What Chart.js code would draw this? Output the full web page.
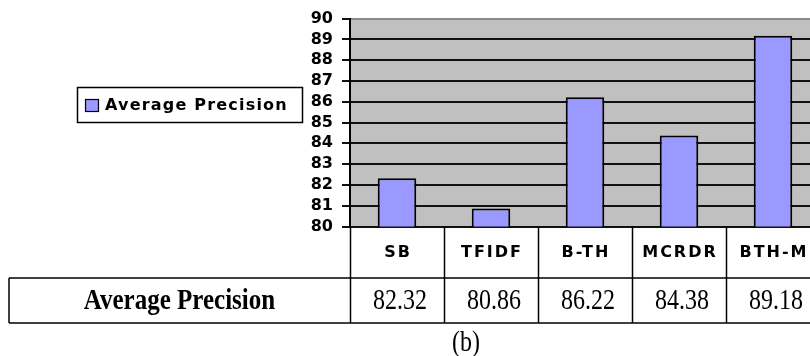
<!DOCTYPE html>
<html>
<head>
  <meta charset="utf-8" />
  <script src="https://cdn.jsdelivr.net/npm/chart.js@4.4.1/dist/chart.umd.min.js"></script>
  <style>
    html,body{margin:0;padding:0;background:#fff;overflow:hidden;width:810px;height:356px;}
    #wrap{width:822px;height:356px;}
  </style>
</head>
<body>
<div id="wrap"><canvas id="chart" width="822" height="356"></canvas></div>

<script>
/* ---------- Data ---------- */
const categories = ['SB', 'TFIDF', 'B-TH', 'MCRDR', 'BTH-M'];
const precision  = [82.32, 80.86, 86.22, 84.38, 89.18];
const seriesName = 'Average Precision';
const yMin = 80, yMax = 90, yStep = 1;
const caption = '(b)';

const BAR_FILL = '#9999FF';
const PLOT_BG  = '#C0C0C0';

/* ---------- Plot background ---------- */
const plotBg = {
  id: 'plotBg',
  beforeDraw(chart){
    const {ctx, chartArea:a} = chart;
    ctx.save();
    ctx.fillStyle = PLOT_BG;
    ctx.fillRect(a.left, a.top, a.right - a.left, a.bottom - a.top);
    ctx.restore();
  }
};

/* ---------- Legend box + data table ---------- */
const tableAndLegend = {
  id: 'tableAndLegend',
  afterDraw(chart){
    const {ctx, chartArea:a} = chart;
    const xs = chart.scales.x;
    const n = categories.length;
    const cw = (a.right - a.left) / n;
    const headTop = a.bottom, rowTop = 278, rowBot = 323, tblLeft = 9;

    ctx.save();
    ctx.strokeStyle = '#000';
    ctx.lineWidth = 1.5;

    // rules of the value row
    ctx.beginPath();
    ctx.moveTo(tblLeft, rowTop); ctx.lineTo(a.right + 5, rowTop);
    ctx.moveTo(tblLeft, rowBot); ctx.lineTo(a.right + 5, rowBot);
    ctx.moveTo(tblLeft, rowTop); ctx.lineTo(tblLeft, rowBot);
    // column dividers
    for(let i = 0; i <= n; i++){
      const x = Math.round(a.left + i * cw) + 0.5;
      ctx.moveTo(x, headTop); ctx.lineTo(x, rowBot);
    }
    ctx.stroke();

    // header labels
    ctx.fillStyle = '#000';
    ctx.textAlign = 'center';
    ctx.textBaseline = 'middle';
    ctx.font = 'bold 16px "DejaVu Sans"';
    ctx.letterSpacing = '2px';
    categories.forEach((c, i) => {
      ctx.fillText(c, xs.getPixelForValue(i) + 1, (headTop + rowTop) / 2 + 1);
    });

    // value row (tall Times look)
    ctx.letterSpacing = '0px';
    const drawTall = (txt, x, y, font) => {
      ctx.save();
      ctx.translate(x, y);
      ctx.scale(1, 1.2);
      ctx.font = font;
      ctx.fillText(txt, 0, 0);
      ctx.restore();
    };
    drawTall(seriesName, (tblLeft + a.left) / 2, (rowTop + rowBot) / 2 + 1, 'bold 25px "Liberation Serif"');
    precision.forEach((v, i) => {
      drawTall(v.toFixed(2), xs.getPixelForValue(i) + 3, (rowTop + rowBot) / 2 + 1, '24px "Liberation Serif"');
    });

    // caption
    drawTall(caption, 466, 343, '24px "Liberation Serif"');

    // legend
    const lx = 77, ly = 87, lw = 225, lh = 35;
    ctx.lineWidth = 1.5;
    ctx.strokeRect(lx + 0.5, ly + 0.5, lw, lh);
    ctx.fillStyle = BAR_FILL;
    ctx.fillRect(85, 99, 14, 13);
    ctx.lineWidth = 1.2;
    ctx.strokeRect(85.5, 99.5, 13, 12);
    ctx.fillStyle = '#000';
    ctx.textAlign = 'left';
    ctx.font = 'bold 16px "DejaVu Sans"';
    ctx.letterSpacing = '1.2px';
    ctx.fillText(chart.data.datasets[0].label, 105, 106);
    ctx.restore();
  }
};

/* ---------- Chart ---------- */
new Chart(document.getElementById('chart').getContext('2d'), {
  type: 'bar',
  data: {
    labels: categories,
    datasets: [{
      label: seriesName,
      data: precision,
      backgroundColor: BAR_FILL,
      borderColor: '#000',
      borderWidth: 2,
      categoryPercentage: 1,
      barPercentage: 0.41
    }]
  },
  options: {
    responsive: false,
    animation: false,
    layout: { padding: { top: 17, bottom: 129.5, left: 0, right: 2 } },
    plugins: { legend: { display: false }, tooltip: { enabled: false } },
    scales: {
      x: { display: false },
      y: {
        min: yMin, max: yMax,
        afterFit(s){ s.width = 350; },
        border: { display: true, color: '#000', width: 2 },
        grid: {
          color: c => c.tick && c.tick.value === yMax ? '#8a8a8a' : '#111',
          tickColor: '#111',
          lineWidth: 2,
          tickLength: 8
        },
        ticks: {
          stepSize: yStep,
          autoSkip: false,
          color: '#000',
          padding: 9,
          font: { family: '"DejaVu Sans"', weight: 'bold', size: 16 }
        }
      }
    }
  },
  plugins: [plotBg, tableAndLegend]
});
</script>
</body>
</html>
